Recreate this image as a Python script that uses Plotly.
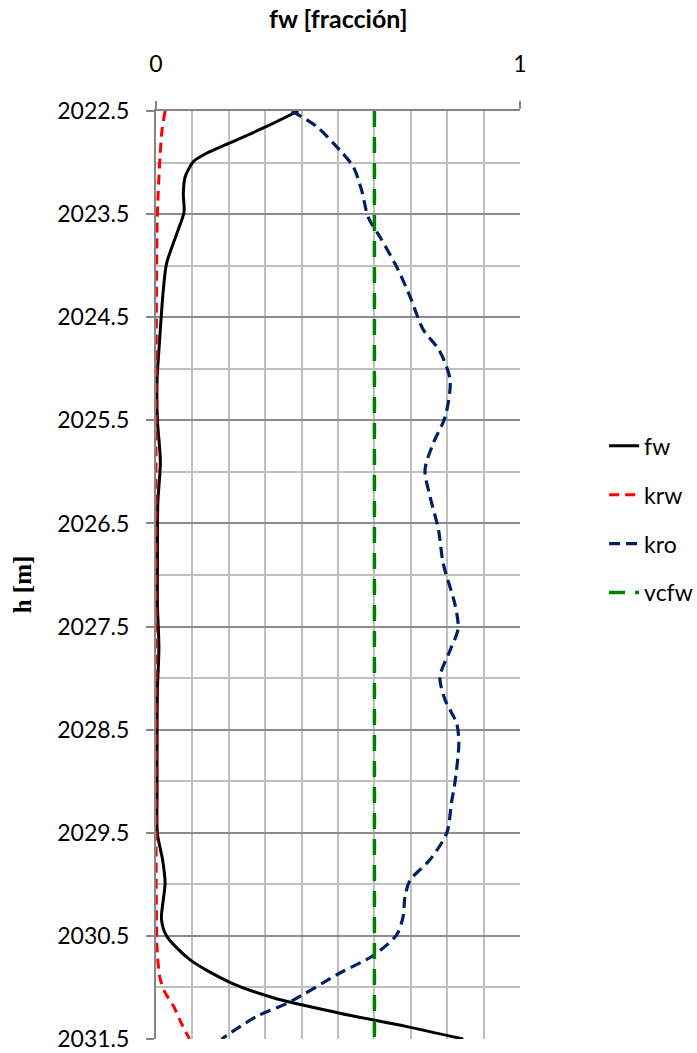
import plotly.graph_objects as go

# Depth profiles [m] and the fractional values read along each one
fw_depth = [2022.50, 2022.65, 2022.81, 2022.91, 2022.99, 2023.14, 2023.30, 2023.48,
            2023.69, 2023.98, 2024.24, 2024.82, 2025.10, 2025.50, 2025.90, 2026.30,
            2026.90, 2027.30, 2027.70, 2028.10, 2028.60, 2029.10, 2029.51, 2029.76,
            2029.99, 2030.15, 2030.34, 2030.50, 2030.73, 2030.95, 2031.10, 2031.25,
            2031.38, 2031.50]
fw = [0.391, 0.304, 0.203, 0.139, 0.103, 0.080, 0.075, 0.077,
      0.057, 0.029, 0.020, 0.008, 0.003, 0.004, 0.012, 0.005,
      0.004, 0.004, 0.008, 0.004, 0.003, 0.003, 0.004, 0.018,
      0.025, 0.020, 0.015, 0.029, 0.093, 0.203, 0.322, 0.505,
      0.689, 0.844]

krw_depth = [2022.50, 2022.70, 2022.95, 2023.30, 2023.60, 2024.50, 2025.50, 2026.50,
             2027.50, 2028.50, 2029.50, 2030.20, 2030.63, 2030.91, 2031.05, 2031.18,
             2031.35, 2031.50]
krw = [0.025, 0.016, 0.011, 0.006, 0.003, 0.001, 0.000, 0.000,
       0.000, 0.000, 0.000, 0.001, 0.003, 0.011, 0.025, 0.048,
       0.070, 0.092]

kro_depth = [2022.50, 2022.65, 2022.88, 2023.04, 2023.27, 2023.53, 2023.72, 2024.01,
             2024.30, 2024.62, 2024.82, 2025.11, 2025.47, 2025.72, 2025.98, 2026.24,
             2026.56, 2026.89, 2027.28, 2027.52, 2027.73, 2027.99, 2028.21, 2028.44,
             2028.63, 2029.02, 2029.20, 2029.50, 2029.76, 2029.96, 2030.12, 2030.31,
             2030.49, 2030.69, 2030.86, 2031.14, 2031.28, 2031.50]
kro = [0.373, 0.441, 0.505, 0.542, 0.565, 0.583, 0.615, 0.661,
       0.698, 0.734, 0.778, 0.808, 0.794, 0.762, 0.739, 0.753,
       0.776, 0.789, 0.821, 0.830, 0.808, 0.780, 0.794, 0.826,
       0.832, 0.821, 0.812, 0.799, 0.753, 0.698, 0.684, 0.679,
       0.661, 0.597, 0.505, 0.368, 0.277, 0.180]

vcfw_depth = [2022.5, 2031.5]
vcfw = [0.6, 0.6]

depth_ticks = [2022.5, 2023.5, 2024.5, 2025.5, 2026.5, 2027.5, 2028.5, 2029.5, 2030.5, 2031.5]
frac_ticks = [0, 1]

FONT = "Lato"
AXIS_GREY = "#868686"
MAJOR_GRID = "#8c8c8c"
MINOR_GRID = "#bfbfbf"

fig = go.Figure()
fig.add_trace(go.Scatter(x=fw, y=fw_depth, name="fw", legendgroup="fw", mode="lines",
                         line=dict(color="#000000", width=3, shape="spline", smoothing=0.8)))
fig.add_trace(go.Scatter(x=krw, y=krw_depth, name="krw", legendgroup="krw", mode="lines",
                         line=dict(color="#ff0000", width=3, dash="10px,6px",
                                   shape="spline", smoothing=0.8)))
fig.add_trace(go.Scatter(x=kro, y=kro_depth, name="kro", legendgroup="kro", mode="lines",
                         line=dict(color="#002060", width=3.2, dash="11px,6px",
                                   shape="spline", smoothing=0.8)))
fig.add_trace(go.Scatter(x=vcfw, y=vcfw_depth, name="vcfw", legendgroup="vcfw", mode="lines",
                         line=dict(color="#008000", width=3.5, dash="16px,10px")))

fig.update_layout(
    width=697, height=1053,
    margin=dict(l=156, r=177, t=111, b=14, autoexpand=False),
    paper_bgcolor="white", plot_bgcolor="white",
    font=dict(family=FONT, size=23, color="#000000"),
    showlegend=True,
    legend=dict(x=1.231, xanchor="left", y=0.56, yanchor="middle",
                font=dict(family=FONT, size=23), tracegroupgap=16,
                traceorder="grouped", itemwidth=30, bgcolor="rgba(0,0,0,0)"),
    xaxis=dict(
        side="top", range=[0, 1], tickvals=frac_ticks, ticktext=["0", "1"],
        ticks="outside", ticklen=8, tickwidth=2, tickcolor=AXIS_GREY,
        ticklabelstandoff=20, automargin=False,
        showline=True, linecolor=AXIS_GREY, linewidth=2, mirror=False,
        showgrid=True, gridcolor=MINOR_GRID, gridwidth=2, zeroline=False,
        minor=dict(dtick=0.1, tick0=0, showgrid=True, gridcolor=MINOR_GRID, gridwidth=2),
        tickfont=dict(family=FONT, size=23),
    ),
    yaxis=dict(
        range=[2031.5, 2022.5], tickvals=depth_ticks,
        ticktext=[f"{v:.1f}" for v in depth_ticks],
        ticks="outside", ticklen=8, tickwidth=2, tickcolor=AXIS_GREY,
        ticklabelstandoff=12, automargin=False,
        showline=True, linecolor=AXIS_GREY, linewidth=2,
        showgrid=True, gridcolor=MAJOR_GRID, gridwidth=2, zeroline=False,
        minor=dict(dtick=0.5, tick0=2022.5, showgrid=True, gridcolor=MINOR_GRID, gridwidth=2),
        tickfont=dict(family=FONT, size=23),
    ),
    # companion axes that add the inner half of the crossing tick marks
    xaxis2=dict(overlaying="x", side="top", range=[0, 1], tickvals=frac_ticks,
                ticks="inside", ticklen=7, tickwidth=2, tickcolor=AXIS_GREY, automargin=False,
                showticklabels=False, showgrid=False, zeroline=False, showline=False),
    yaxis2=dict(overlaying="y", side="left", range=[2031.5, 2022.5], tickvals=depth_ticks,
                ticks="inside", ticklen=7, tickwidth=2, tickcolor=AXIS_GREY, automargin=False,
                showticklabels=False, showgrid=False, zeroline=False, showline=False),
    annotations=[
        dict(text="<b>fw [fracción]</b>", xref="paper", yref="paper", x=0.5, y=1.1002,
             xanchor="center", yanchor="middle", showarrow=False,
             font=dict(family=FONT, size=25, color="#000000")),
        dict(text="<b>h [m]</b>", xref="paper", yref="paper", x=-0.368, y=0.49,
             xanchor="center", yanchor="middle", showarrow=False, textangle=-90,
             font=dict(family="Liberation Serif", size=25, color="#000000")),
    ],
)

fig.write_html("out.html")
